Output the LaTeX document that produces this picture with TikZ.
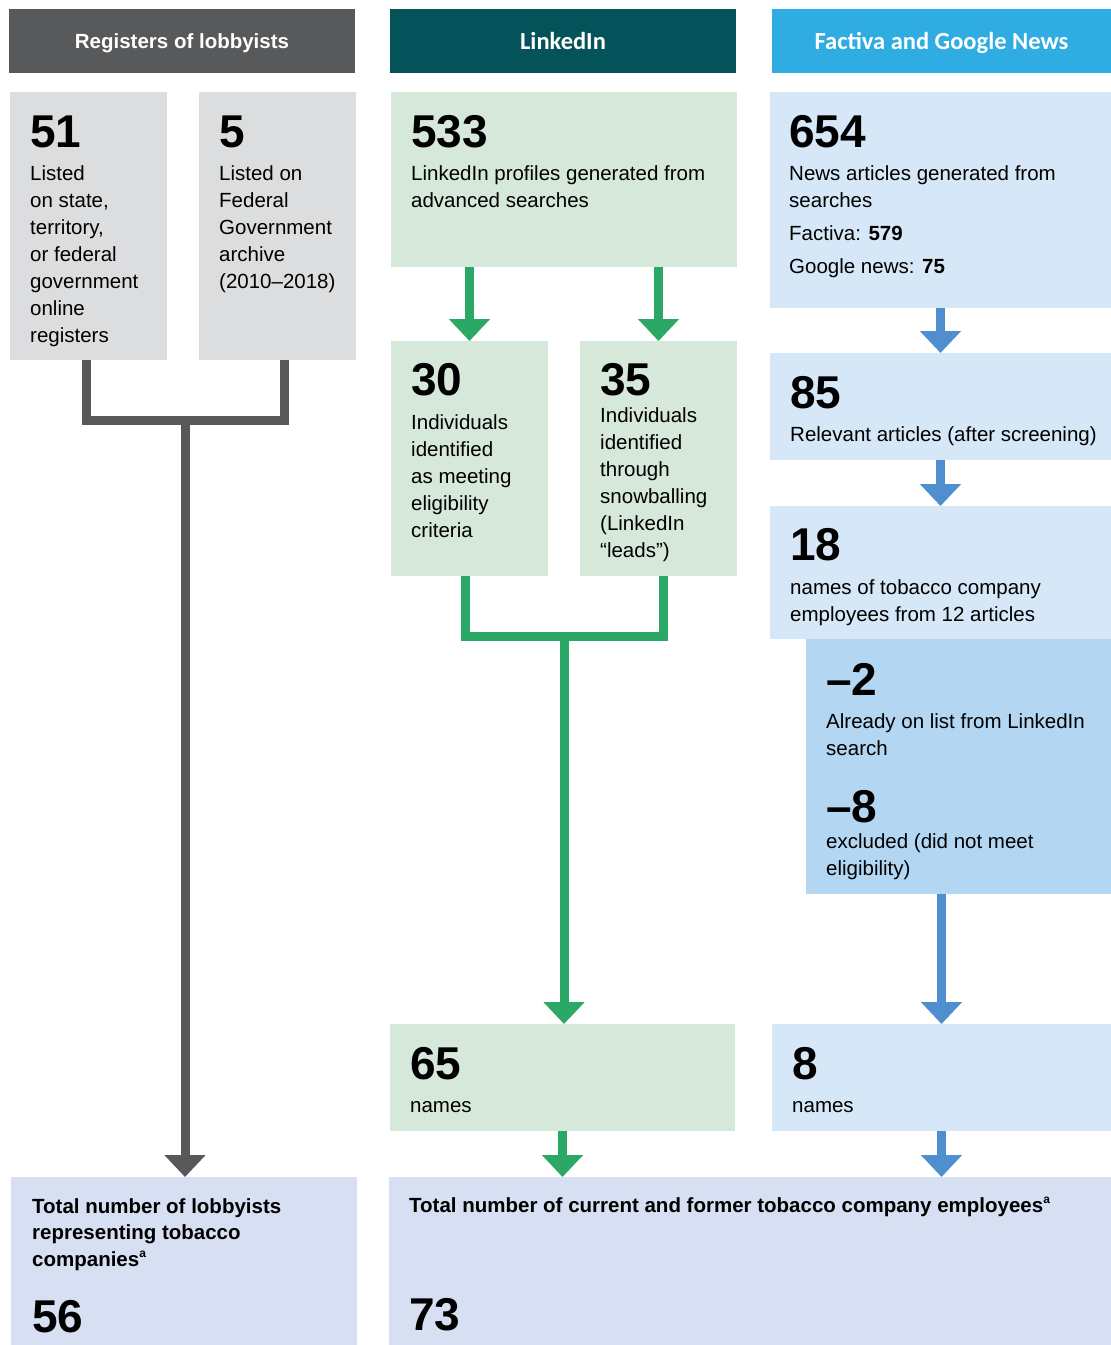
\documentclass[tikz,border=0pt]{standalone}
\usepackage{fontspec}
\setmainfont{Liberation Sans}
\newfontfamily\hdfont{Carlito}
\usetikzlibrary{arrows.meta}

\definecolor{hdgray}{HTML}{58595B}
\definecolor{hdteal}{HTML}{05535A}
\definecolor{hdblue}{HTML}{2FADE3}
\definecolor{regfill}{HTML}{DCDDDF}
\definecolor{linfill}{HTML}{D5E8DA}
\definecolor{newsfill}{HTML}{D6E7F7}
\definecolor{exclfill}{HTML}{B3D6F2}
\definecolor{totfill}{HTML}{D7E0F2}
\definecolor{reggray}{HTML}{58585A}
\definecolor{lingreen}{HTML}{2BA866}
\definecolor{newsblue}{HTML}{4F8FCF}

\newcommand{\fnmark}{\raisebox{0.75ex}{\fontsize{12}{12}\selectfont a}}

\tikzset{
	box/.style={anchor=north west, inner sep=0pt, outer sep=0pt},
	hd/.style={box, text=white, text depth=0pt},
	num/.style={anchor=base west, inner sep=0pt, font=\bfseries\fontsize{46}{46}\selectfont},
	% multi-line texts: anchored at the baseline of their last line
	txt/.style={anchor=base west, inner sep=0pt, align=left, font=\fontsize{20.5}{27}\selectfont},
	tottxt/.style={txt, font=\bfseries\fontsize{20.5}{26.5}\selectfont},
	flow/.style={line width=9pt, line join=miter},
	flowarrow/.style={flow, -{Triangle[width=40pt, length=22pt]}}
}

\begin{document}
\begin{tikzpicture}[x=1pt, y=-1pt]
	\useasboundingbox (0,0) rectangle (1111,1345);

	% Headers
	\node[hd, fill=hdgray, minimum width=346pt, minimum height=64pt, font=\bfseries\fontsize{20.5}{24}\selectfont] (hreg) at (9,9) {Registers of lobbyists};
	\node[hd, fill=hdteal, minimum width=346pt, minimum height=64pt, font=\hdfont\bfseries\fontsize{24.5}{28}\selectfont] (hlin) at (390,9) {LinkedIn};
	\node[hd, fill=hdblue, minimum width=339pt, minimum height=64pt, font=\hdfont\bfseries\fontsize{24.5}{28}\selectfont] (hnews) at (772,9) {Factiva and Google News};

	% Registers of lobbyists
	\node[box, fill=regfill, minimum width=157pt, minimum height=268pt] (b51) at (10,92) {};
	\node[box, fill=regfill, minimum width=157pt, minimum height=268pt] (b5) at (199,92) {};
	\node[num] (n51) at (30,147) {51};
	\node[txt] (t51) at (30,342) {Listed\\on state,\\territory,\\or federal\\government\\online\\registers};
	\node[num] (n5) at (219,147) {5};
	\node[txt] (t5) at (219,288) {Listed on\\Federal\\Government\\archive\\(2010\textendash2018)};

	% LinkedIn
	\node[box, fill=linfill, minimum width=346pt, minimum height=175pt] (b533) at (391,92) {};
	\node[num] (n533) at (411,147) {533};
	\node[txt] (t533) at (411,207) {LinkedIn profiles generated from\\advanced searches};
	\node[box, fill=linfill, minimum width=157pt, minimum height=235pt] (b30) at (391,341) {};
	\node[num] (n30) at (411,395) {30};
	\node[txt] (t30) at (411,537) {Individuals\\identified\\as meeting\\eligibility\\criteria};
	\node[box, fill=linfill, minimum width=157pt, minimum height=235pt] (b35) at (580,341) {};
	\node[num] (n35) at (600,395) {35};
	\node[txt] (t35) at (600,557) {Individuals\\identified\\through\\snowballing\\(LinkedIn\\“leads”)};
	\node[box, fill=linfill, minimum width=345pt, minimum height=107pt] (b65) at (390,1024) {};
	\node[num] (n65) at (410,1079) {65};
	\node[txt] (t65) at (410,1112) {names};

	% Factiva and Google News
	\node[box, fill=newsfill, minimum width=341pt, minimum height=216pt] (b654) at (770,92) {};
	\node[num] (n654) at (789,147) {654};
	\node[txt] (t654) at (789,273) {News articles generated from\\searches\\[6pt]Factiva: \textbf{579}\\[6pt]Google news: \textbf{75}};
	\node[box, fill=newsfill, minimum width=341pt, minimum height=107pt] (b85) at (770,353) {};
	\node[num] (n85) at (790,408) {85};
	\node[txt] (t85) at (790,441) {Relevant articles (after screening)};
	\node[box, fill=newsfill, minimum width=341pt, minimum height=133pt] (b18) at (770,506) {};
	\node[num] (n18) at (790,560) {18};
	\node[txt] (t18) at (790,621) {names of tobacco company\\employees from 12 articles};
	\node[box, fill=exclfill, minimum width=305pt, minimum height=255pt] (bexcl) at (806,639) {};
	\node[num] (nm2) at (826,695) {\textendash2};
	\node[txt] (tm2) at (826,755) {Already on list from LinkedIn\\search};
	\node[num] (nm8) at (826,822) {\textendash8};
	\node[txt] (tm8) at (826,875) {excluded (did not meet\\eligibility)};
	\node[box, fill=newsfill, minimum width=339pt, minimum height=107pt] (b8) at (772,1024) {};
	\node[num] (n8) at (792,1079) {8};
	\node[txt] (t8) at (792,1112) {names};

	% Totals
	\node[box, fill=totfill, minimum width=346pt, minimum height=168pt] (tot1) at (11,1177) {};
	\node[tottxt] (tt1) at (32,1266) {Total number of lobbyists\\representing tobacco\\companies\fnmark};
	\node[num] (n56) at (32,1332) {56};
	\node[box, fill=totfill, minimum width=722pt, minimum height=168pt] (tot2) at (389,1177) {};
	\node[tottxt] (tt2) at (409,1212) {Total number of current and former tobacco company employees\fnmark};
	\node[num] (n73) at (409,1330) {73};

	% Connectors
	\coordinate (gjoin) at (185,420);
	\draw[flow, reggray] ([xshift=-2pt]b51.south) |- (gjoin) -| ([xshift=7pt]b5.south);
	\draw[flowarrow, reggray] (gjoin) -- (gjoin |- tot1.north);

	\draw[flowarrow, lingreen] (b533.south -| b30.north) -- (b30.north);
	\draw[flowarrow, lingreen] (b533.south -| b35.north) -- (b35.north);
	\coordinate (grjoin) at (564,636);
	\draw[flow, lingreen] ([xshift=-4pt]b30.south) |- (grjoin) -| ([xshift=5pt]b35.south);
	\draw[flowarrow, lingreen] (grjoin) -- (grjoin |- b65.north);
	\draw[flowarrow, lingreen] (b65.south) -- (b65.south |- tot2.north);

	\draw[flowarrow, newsblue] (b654.south) -- (b85.north);
	\draw[flowarrow, newsblue] (b85.south) -- (b18.north);
	\draw[flowarrow, newsblue] (b8.north |- bexcl.south) -- (b8.north);
	\draw[flowarrow, newsblue] (b8.south) -- (b8.south |- tot2.north);
\end{tikzpicture}
\end{document}
